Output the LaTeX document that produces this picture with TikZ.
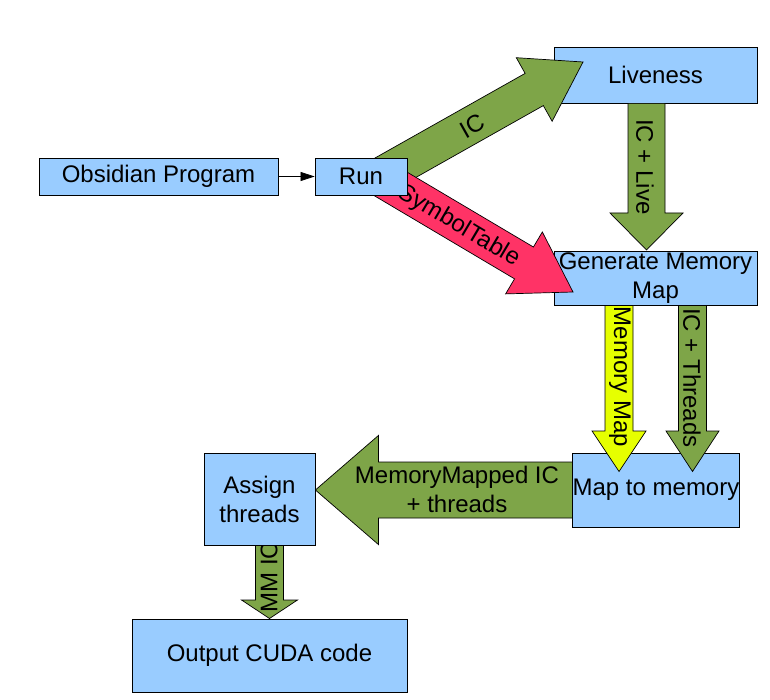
\documentclass[tikz,border=0pt]{standalone}
\usepackage{fontspec}
\setmainfont{Liberation Sans}
\usetikzlibrary{calc,arrows.meta}
\definecolor{boxblue}{HTML}{99CCFF}
\definecolor{agreen}{HTML}{7EA548}
\definecolor{ared}{HTML}{FF3366}
\definecolor{ayellow}{HTML}{E6FF00}
\pgfdeclarelayer{back}
\pgfdeclarelayer{boxes}
\pgfdeclarelayer{arrows}
\pgfsetlayers{back,boxes,arrows,main}
% #1 start, #2 tip, #3 shaft half width, #4 head half width, #5 head length, #6 style
\newcommand\blockarrow[6]{%
  \coordinate (bh) at ($(#2)!#5!(#1)$);
  \filldraw[#6] ($(#1)!#3!90:(#2)$) -- ($(bh)!#3!90:(#2)$) -- ($(bh)!#4!90:(#2)$)
    -- (#2) -- ($(bh)!#4!-90:(#2)$) -- ($(bh)!#3!-90:(#2)$) -- ($(#1)!#3!-90:(#2)$) -- cycle;
}
\begin{document}
\begin{tikzpicture}[x=1pt,y=-1pt,
  txt/.style={font=\fontsize{24}{29}\selectfont, inner sep=0pt, align=center},
  box/.style={txt, draw=black, line width=0.8pt, fill=boxblue},
  blk/.style={draw=black, line width=0.7pt, line join=miter},
]
\useasboundingbox (0,0) rectangle (770,700);

\begin{pgfonlayer}{boxes}
\node[box, minimum width=239pt, minimum height=37pt] (obs) at (158.5,176.5) {Obsidian Program};
\node[box, minimum width=203pt, minimum height=56pt] (live) at (655.5,75) {Liveness};
\node[box, minimum width=203pt, minimum height=54pt] (gmm) at (655.5,278) {Generate Memory\\Map};
\node[box, minimum width=166pt, minimum height=74pt] (map) at (656,490) {Map to memory};
\node[box, minimum width=111pt, minimum height=92pt] (assign) at (259.5,499) {Assign\\threads};
\node[box, minimum width=275pt, minimum height=73pt] (out) at (269.5,655.5) {Output CUDA code};
\end{pgfonlayer}

\node[box, minimum width=92pt, minimum height=37pt] (run) at (361,176.5) {Run};

% named arrow ends
\coordinate (icA) at (379,177);
\coordinate (icB) at (583,62);
\coordinate (stA) at (379,177);
\coordinate (stB) at (573,292);
\coordinate (ilA) at (live.south -| 646.5,0);
\coordinate (ilB) at (646.5,250);
\coordinate (mmA) at (gmm.south -| 619,0);
\coordinate (mmB) at (619,471.5);
\coordinate (itA) at (gmm.south -| 692.5,0);
\coordinate (itB) at (692.5,471.5);
\coordinate (miA) at (600,490);
\coordinate (miB) at (assign.east |- 0,490);
\coordinate (mcA) at (269.5,525);
\coordinate (mcB) at (269.5,618.5);

\begin{pgfonlayer}{back}
\blockarrow{miA}{miB}{28pt}{54.5pt}{63pt}{blk, fill=agreen}
\node[txt] at (457,489) {MemoryMapped IC\\+ threads};
\blockarrow{mcA}{mcB}{14pt}{28pt}{18.5pt}{blk, fill=agreen}
\node[txt, rotate=90] at (269,577) {MM IC};
\end{pgfonlayer}

\begin{pgfonlayer}{arrows}
\blockarrow{icA}{icB}{18.5pt}{36.5pt}{56pt}{blk, fill=agreen}
\node[txt, rotate=29.4] at (472,126) {IC};
\blockarrow{stA}{stB}{18.5pt}{36pt}{57pt}{blk, fill=ared}
\node[txt, rotate=-30.7] at (459,226) {SymbolTable};
\blockarrow{ilA}{ilB}{18.5pt}{36.5pt}{37pt}{blk, fill=agreen}
\node[txt, rotate=-90] at (645,167) {IC + Live};
\blockarrow{mmA}{mmB}{14pt}{27pt}{40.5pt}{blk, fill=ayellow}
\node[txt, rotate=-90] at (620,377) {Memory Map};
\blockarrow{itA}{itB}{14pt}{26.5pt}{40.5pt}{blk, fill=agreen}
\node[txt, rotate=-90] at (692,378) {IC + Threads};
\end{pgfonlayer}

\draw[line width=0.7pt, -{Triangle[length=14pt,width=9pt]}] (obs.east) -- (run.west);
\end{tikzpicture}
\end{document}
